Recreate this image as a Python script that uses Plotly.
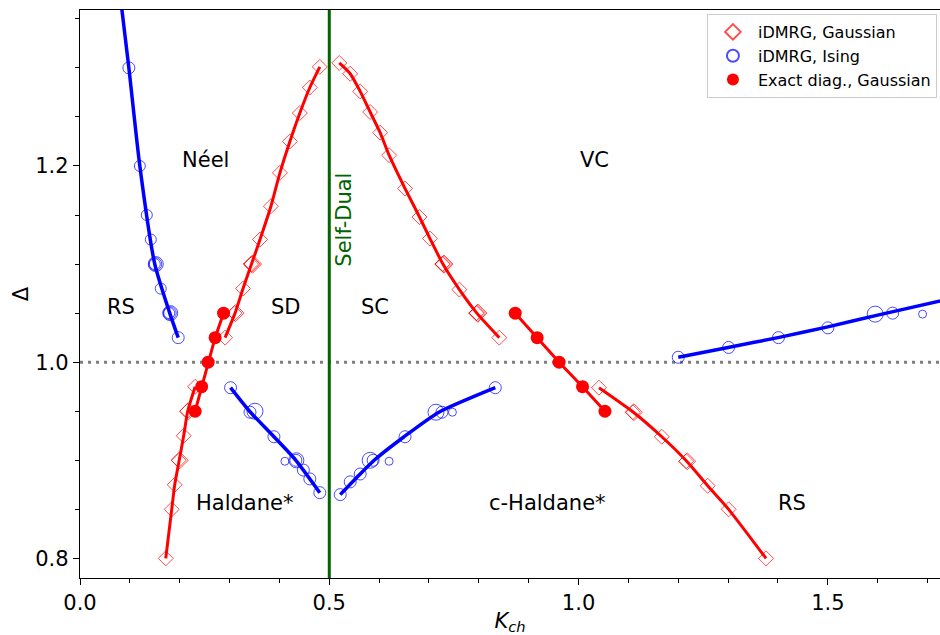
import plotly.graph_objects as go

# ---------------- data ----------------
# iDMRG, Gaussian (open diamonds); repeated points = different bond dimensions
gauss_k = [0.172, 0.184, 0.190, 0.198, 0.200, 0.208, 0.215, 0.217, 0.231,
           0.291, 0.310, 0.312, 0.327, 0.343, 0.345, 0.346, 0.361, 0.383, 0.401,
           0.421, 0.441, 0.461, 0.481,
           0.520, 0.542, 0.562, 0.582, 0.602, 0.620, 0.652, 0.681, 0.702, 0.727,
           0.729, 0.730, 0.761, 0.795, 0.797, 0.798, 0.841,
           1.041, 1.109, 1.111, 1.167, 1.216, 1.218, 1.259, 1.301, 1.376]
gauss_delta = [0.800, 0.850, 0.875, 0.900, 0.900, 0.925, 0.950, 0.950, 0.975,
               1.025, 1.050, 1.050, 1.075, 1.100, 1.100, 1.100, 1.125, 1.159, 1.193,
               1.225, 1.254, 1.280, 1.301,
               1.305, 1.294, 1.276, 1.255, 1.234, 1.211, 1.177, 1.148, 1.126, 1.100,
               1.100, 1.100, 1.074, 1.050, 1.050, 1.050, 1.025,
               0.974, 0.949, 0.949, 0.924, 0.899, 0.899, 0.874, 0.850, 0.800]
gauss_size = [11.5, 11.5, 11.5, 11.5, 13, 11.5, 11.5, 13, 11.5,
              11.5, 11.5, 13, 11.5, 11.5, 12.5, 14, 11.5, 11.5, 11.5,
              11.5, 11.5, 11.5, 11.5,
              11.5, 11.5, 11.5, 11.5, 11.5, 11.5, 11.5, 11.5, 11.5, 11.5,
              12.5, 14, 11.5, 11.5, 12.5, 14, 11.5,
              11.5, 11.5, 13, 11.5, 11.5, 13, 11.5, 11.5, 11.5]

# iDMRG, Ising (open circles)
ising_k = [0.098, 0.120, 0.134, 0.142, 0.150, 0.151, 0.152, 0.162, 0.179, 0.180, 0.181, 0.197,
           0.302, 0.341, 0.351, 0.389, 0.411, 0.433, 0.434, 0.448, 0.461, 0.481,
           0.522, 0.542, 0.562, 0.582, 0.588, 0.620, 0.652, 0.714, 0.726, 0.747, 0.833,
           1.200, 1.301, 1.401, 1.500, 1.595, 1.630, 1.690]
ising_delta = [1.300, 1.200, 1.150, 1.125, 1.100, 1.100, 1.100, 1.075, 1.050, 1.050, 1.050, 1.025,
               0.974, 0.949, 0.950, 0.924, 0.899, 0.900, 0.900, 0.890, 0.881, 0.867,
               0.865, 0.878, 0.886, 0.900, 0.900, 0.899, 0.924, 0.949, 0.949, 0.949, 0.974,
               1.005, 1.015, 1.025, 1.035, 1.049, 1.050, 1.049]
ising_size = [12, 11, 11, 11, 11, 13, 15, 11, 11, 13, 15, 12,
              12, 12, 16, 12, 8, 12, 15, 12, 12, 12,
              12, 12, 12, 16, 12, 8, 12, 16, 12, 8, 12,
              12, 12, 12, 12, 16, 12, 8]

# Exact diagonalization, Gaussian (filled circles)
ed_left_k = [0.231, 0.244, 0.257, 0.271, 0.288]
ed_left_delta = [0.950, 0.975, 1.000, 1.025, 1.050]
ed_right_k = [0.873, 0.917, 0.961, 1.008, 1.053]
ed_right_delta = [1.050, 1.025, 1.000, 0.975, 0.950]

# fitted phase-boundary curves
fit_red = {
    "sd_low": ([0.172, 0.184, 0.190, 0.199, 0.208, 0.216, 0.231],
               [0.800, 0.850, 0.875, 0.900, 0.925, 0.950, 0.975]),
    "sd_high": ([0.291, 0.311, 0.327, 0.344, 0.361, 0.383, 0.401, 0.421, 0.441, 0.461, 0.481],
                [1.025, 1.050, 1.075, 1.100, 1.125, 1.159, 1.193, 1.225, 1.254, 1.280, 1.301]),
    "sc_high": ([0.520, 0.542, 0.562, 0.582, 0.602, 0.620, 0.652, 0.681, 0.702, 0.728, 0.761, 0.796, 0.841],
                [1.305, 1.294, 1.276, 1.255, 1.234, 1.211, 1.177, 1.148, 1.126, 1.100, 1.074, 1.050, 1.025]),
    "rs_low": ([1.041, 1.110, 1.167, 1.217, 1.259, 1.301, 1.376],
               [0.974, 0.949, 0.924, 0.899, 0.874, 0.850, 0.800]),
}
fit_blue = {
    "rs_neel": ([0.078, 0.098, 0.120, 0.150, 0.180, 0.197],
                [1.385, 1.300, 1.200, 1.100, 1.050, 1.025]),
    "haldane": ([0.302, 0.340, 0.389, 0.433, 0.481],
                [0.974, 0.950, 0.924, 0.900, 0.867]),
    "c_haldane": ([0.522, 0.560, 0.590, 0.650, 0.720, 0.833],
                  [0.865, 0.885, 0.900, 0.924, 0.949, 0.974]),
    "vc_rs": ([1.200, 1.300, 1.400, 1.500, 1.600, 1.800],
              [1.005, 1.015, 1.025, 1.036, 1.048, 1.071]),
}

SELF_DUAL_K = 0.5
ISOTROPIC_DELTA = 1.0

phase_labels = ["Néel", "RS", "SD", "SC", "VC", "Haldane*", "c-Haldane*", "RS"]
phase_k = [0.251, 0.082, 0.413, 0.592, 1.031, 0.329, 0.937, 1.428]
phase_delta = [1.206, 1.056, 1.056, 1.056, 1.206, 0.856, 0.856, 0.856]

RED = "#ff0000"
BLUE = "#0000ff"
GREEN = "#006400"
FONT = "DejaVu Sans"

fig = go.Figure()

for name, (xs, ys) in fit_red.items():
    fig.add_trace(go.Scatter(x=xs, y=ys, mode="lines", line=dict(color=RED, width=3, shape="spline", smoothing=0.6),
                             showlegend=False, hoverinfo="skip"))
for name, (xs, ys) in fit_blue.items():
    fig.add_trace(go.Scatter(x=xs, y=ys, mode="lines", line=dict(color=BLUE, width=3.5, shape="spline", smoothing=0.6),
                             showlegend=False, hoverinfo="skip"))

# exact-diag connecting lines
for xs, ys in [(ed_left_k, ed_left_delta), (ed_right_k, ed_right_delta)]:
    fig.add_trace(go.Scatter(x=xs, y=ys, mode="lines", line=dict(color=RED, width=3),
                             showlegend=False, hoverinfo="skip"))

fig.add_trace(go.Scatter(x=gauss_k, y=gauss_delta, mode="markers", name="iDMRG, Gaussian",
                         marker=dict(symbol="diamond-open", size=gauss_size, color=RED, line=dict(width=1, color=RED))))
fig.add_trace(go.Scatter(x=ising_k, y=ising_delta, mode="markers", name="iDMRG, Ising",
                         marker=dict(symbol="circle-open", size=ising_size, color=BLUE, line=dict(width=1, color=BLUE))))
fig.add_trace(go.Scatter(x=ed_left_k + ed_right_k, y=ed_left_delta + ed_right_delta, mode="markers",
                         name="Exact diag., Gaussian",
                         marker=dict(symbol="circle", size=13, color=RED)))

fig.add_shape(type="line", xref="paper", x0=0, x1=1, yref="y", y0=ISOTROPIC_DELTA, y1=ISOTROPIC_DELTA,
              line=dict(color="#808080", width=3, dash="3px,5px"), layer="below")
fig.add_shape(type="line", xref="x", x0=SELF_DUAL_K, x1=SELF_DUAL_K, yref="paper", y0=0, y1=1,
              line=dict(color=GREEN, width=3), layer="above")

for t, xk, yd in zip(phase_labels, phase_k, phase_delta):
    fig.add_annotation(x=xk, y=yd, text=t, showarrow=False, font=dict(family=FONT, size=21, color="black"))

fig.add_annotation(x=0.529, y=1.145, text="Self-Dual", textangle=-90, showarrow=False,
                   font=dict(family=FONT, size=21, color=GREEN))

fig.update_layout(
    width=940, height=635,
    margin=dict(l=80, r=0, t=10, b=57, autoexpand=False),
    paper_bgcolor="white", plot_bgcolor="white",
    font=dict(family=FONT, size=21, color="black"),
    showlegend=True,
    legend=dict(x=0.729, y=0.993, xanchor="left", yanchor="top", itemwidth=40,
                bgcolor="white", bordercolor="#cccccc", borderwidth=1,
                font=dict(family=FONT, size=16), itemsizing="constant", tracegroupgap=0),
    xaxis=dict(range=[0, 1.725], tickvals=[0.0, 0.5, 1.0, 1.5], tickformat=".1f", automargin=False,
               showgrid=False, zeroline=False, showline=True, linecolor="black", linewidth=1.3,
               mirror=True, ticks="outside", ticklen=6, tickwidth=1.3, tickcolor="black",
               tickfont=dict(family=FONT, size=21),
               minor=dict(ticks="outside", ticklen=3.5, tickwidth=1, tickcolor="black", dtick=0.1, tick0=0, showgrid=False),
               title=dict(text="<i>K</i><sub><i>ch</i></sub>", font=dict(family=FONT, size=21), standoff=0)),
    yaxis=dict(range=[0.780, 1.359], tickvals=[0.8, 1.0, 1.2], tickformat=".1f", automargin=False,
               showgrid=False, zeroline=False, showline=True, linecolor="black", linewidth=1.3,
               mirror=True, ticks="outside", ticklen=6, tickwidth=1.3, tickcolor="black",
               tickfont=dict(family=FONT, size=21),
               minor=dict(ticks="outside", ticklen=3.5, tickwidth=1, tickcolor="black", dtick=0.05, tick0=0, showgrid=False),
               title=dict(text="Δ", font=dict(family=FONT, size=21), standoff=0)),
)

# remove the default 8px page margin so the 940x635 figure fills the window exactly
fig.write_html("out.html", config={"displayModeBar": False},
               post_script="document.body.style.margin='0';document.body.style.overflow='hidden';")
